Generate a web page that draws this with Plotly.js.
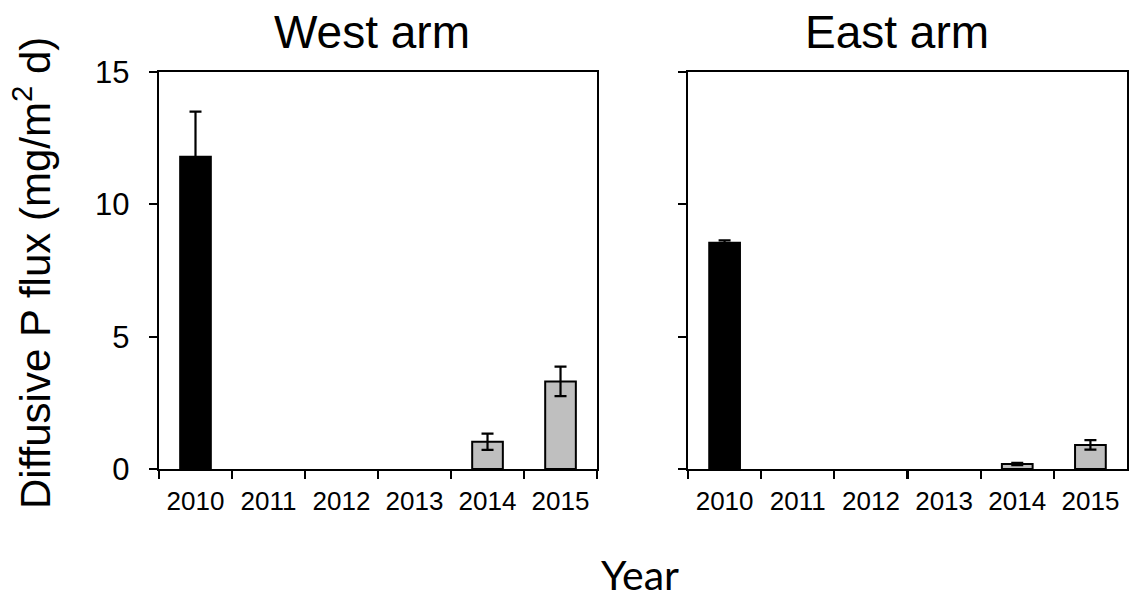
<!DOCTYPE html>
<html>
<head>
<meta charset="utf-8">
<script src="https://cdn.plot.ly/plotly-3.0.1.min.js"></script>
<style>
  html, body { margin: 0; padding: 0; background: #ffffff; }
  #chart { width: 1130px; height: 601px; }
</style>
</head>
<body>
<div id="chart"></div>
<script>
// Sampling years (no measurements 2011-2013)
const years = ['2010', '2011', '2012', '2013', '2014', '2015'];

// Diffusive P flux, mg/m2 d, mean and error
const westFlux = [11.80, null, null, null, 1.03, 3.31];
const westErr  = [1.70,  null, null, null, 0.31, 0.56];
const eastFlux = [8.55,  null, null, null, 0.19, 0.91];
const eastErr  = [0.09,  null, null, null, 0.04, 0.18];

// Panel titles and axis titles
const panelTitles = ['West arm', 'East arm'];
const xTitle = 'Year';
const yTitle = 'Diffusive P flux (mg/m<sup>2</sup> d)';

const barColors = ['#000000', '#bfbfbf', '#bfbfbf', '#bfbfbf', '#bfbfbf', '#bfbfbf'];
const sans = 'Liberation Sans, Arial, sans-serif';

function barTrace(y, err, xa, ya) {
  return {
    type: 'bar',
    x: years,
    y: y,
    xaxis: xa,
    yaxis: ya,
    width: 0.42,
    marker: { color: barColors, line: { color: '#000000', width: 2 } },
    error_y: { type: 'data', array: err, visible: true, color: '#000000', thickness: 2.2, width: 6 },
    hoverinfo: 'x+y'
  };
}

const data = [
  barTrace(westFlux, westErr, 'x', 'y'),
  barTrace(eastFlux, eastErr, 'x2', 'y2')
];

const plotL = 159, plotR = 1127, plotT = 72, plotB = 469;
const px = v => (v - plotL) / (plotR - plotL);
const py = v => (plotB - v) / (plotB - plotT);

function xAxis(domain, anchor) {
  return {
    domain: domain, anchor: anchor, type: 'category',
    showline: true, linecolor: '#000000', linewidth: 2.2, mirror: true,
    ticks: 'outside', tickson: 'boundaries', ticklen: 8, tickwidth: 2.2, tickcolor: '#000000',
    ticklabelstandoff: 8,
    tickfont: { family: sans, size: 26, color: '#000000' },
    showgrid: false, zeroline: false, fixedrange: true
  };
}
function yAxis(anchor, labels) {
  return {
    anchor: anchor, range: [0, 15], tickvals: [0, 5, 10, 15],
    showline: true, linecolor: '#000000', linewidth: 2.2, mirror: true,
    ticks: 'outside', ticklen: 8, tickwidth: 2.2, tickcolor: '#000000',
    showticklabels: labels, ticklabelstandoff: 13,
    tickfont: { family: sans, size: 31, color: '#000000' },
    showgrid: false, zeroline: false, fixedrange: true
  };
}

const layout = {
  width: 1130, height: 601,
  margin: { l: plotL, r: 1130 - plotR, t: plotT, b: 601 - plotB, pad: 0 },
  paper_bgcolor: '#ffffff', plot_bgcolor: '#ffffff',
  showlegend: false, bargap: 0.4,
  xaxis: xAxis([0, 0.4525], 'y'),
  yaxis: yAxis('x', true),
  xaxis2: xAxis([0.5465, 1], 'y2'),
  yaxis2: yAxis('x2', false),
  annotations: [
    { text: panelTitles[0], xref: 'paper', yref: 'paper', x: px(372), y: py(32),
      xanchor: 'center', yanchor: 'middle', showarrow: false,
      font: { family: sans, size: 46, color: '#000000' } },
    { text: panelTitles[1], xref: 'paper', yref: 'paper', x: px(897), y: py(32),
      xanchor: 'center', yanchor: 'middle', showarrow: false,
      font: { family: sans, size: 46, color: '#000000' } },
    { text: xTitle, xref: 'paper', yref: 'paper', x: px(640), y: py(574),
      xanchor: 'center', yanchor: 'middle', showarrow: false,
      font: { family: 'Lato, Open Sans, sans-serif', size: 41, color: '#000000' } },
    { text: yTitle, xref: 'paper', yref: 'paper', x: px(32), y: py(273),
      xanchor: 'center', yanchor: 'middle', showarrow: false, textangle: -90,
      font: { family: sans, size: 42, color: '#000000' } }
  ]
};

Plotly.newPlot('chart', data, layout, { staticPlot: true, displayModeBar: false });
</script>
</body>
</html>
